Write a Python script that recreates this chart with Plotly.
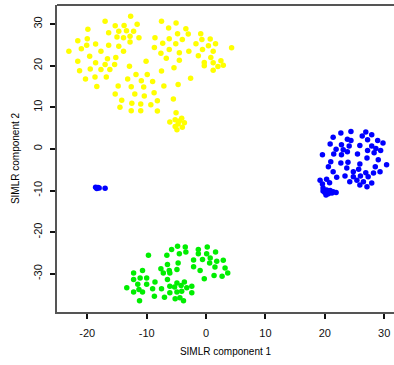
import plotly.graph_objects as go

# SIMLR embedding, cluster 1 (yellow)
yellow_x = [-12.7, -17.0, -15.3, -13.8, -11.6, -19.9, -16.4, -14.7, -13.4, -12.2,
            -15.0, -13.9, -12.8, -11.3, -8.6, -21.6, -20.0, -12.8, -18.6, -20.1,
            -16.4, -14.7, -21.0, -23.1, -17.7, -13.9, -19.6, -16.6, -15.2, -21.6,
            -18.6, -17.0, -15.4, -12.9, -10.1, -19.5, -17.7, -16.2, -21.3, -11.8,
            -9.9, -16.8, -18.7, -20.3, -13.2, -10.9, -9.0, -18.4, -14.8, -12.6,
            -10.5, -15.3, -14.2, -14.5, -12.5, -12.6, -11.0, -11.0, -9.3, -8.2,
            -8.2, -10.4, -12.0, -8.75, -7.1, -7.5, -5.5, -4.7, -5.4, -4.5,
            -2.6, -0.3, -7.5, -5.05, -6.3, -3.4, -6.2, -4.8, -3.0, -0.9,
            -4.0, -7.3, -5.1, -8.7, -1.7, -0.7, 0.7, 1.6, 0.4, 4.3,
            -6.2, -2.9, -0.6, 1.2, -7.6, -4.5, -1.3, 0.8, -6.7, -0.3,
            1.2, 2.5, 2.0, 2.9, 1.2,
            -5.05, -6.1, -5.2, -4.1, -4.7, -3.65, -5.2, -4.0, -4.9, -4.5]
yellow_y = [31.9, 30.7, 29.6, 29.7, 30.0, 28.8, 27.9, 28.3, 28.4, 28.3,
            26.9, 26.7, 27.1, 26.7, 26.7, 26.0, 26.5, 25.7, 25.2, 24.9,
            24.9, 24.7, 24.1, 23.5, 23.5, 23.5, 22.3, 21.7, 22.0, 21.1,
            20.7, 20.3, 20.3, 19.9, 21.1, 19.2, 19.1, 19.1, 18.8, 17.9,
            17.9, 17.3, 17.3, 16.8, 16.8, 16.4, 16.2, 15.0, 15.1, 14.95,
            14.9, 13.2, 11.7, 10.0, 11.0, 9.2, 10.8, 9.2, 10.6, 11.6,
            9.1, 12.7, 13.2, 13.5, 15.1, 18.75, 12.0, 15.5, 19.5, 21.3,
            17.0, 20.0, 30.7, 30.3, 29.1, 28.9, 26.5, 27.7, 27.6, 27.7,
            26.3, 25.4, 25.3, 24.4, 25.3, 26.3, 26.4, 25.3, 24.8, 24.3,
            23.9, 23.5, 23.9, 23.5, 23.0, 23.1, 22.4, 22.0, 21.8, 20.8,
            20.7, 21.2, 19.8, 20.1, 18.9,
            8.7, 6.5, 7.0, 7.4, 6.0, 6.3, 5.4, 5.2, 4.6, 6.7]

# cluster 2 (blue): main group plus a small tight group on the left
blue_x = [24.4, 22.7, 26.3, 26.9, 27.9, 21.4, 23.8, 24.4, 27.2, 28.9,
          29.8, 20.9, 22.8, 24.1, 25.9, 27.9, 28.6, 21.9, 23.1, 23.8,
          27.2, 29.4, 28.3, 19.6, 21.5, 22.8, 25.5, 27.1, 29.0, 30.4,
          21.0, 22.7, 23.9, 25.9, 28.5, 20.6, 21.4, 23.7, 24.8, 25.7,
          26.9, 28.2, 29.3, 20.3, 22.0, 23.4, 24.8, 26.0, 27.3, 26.5,
          27.9, 19.6, 20.8, 24.2, 25.4, 25.9, 27.1, 19.2,
          19.7, 20.3, 20.9, 20.0, 20.6, 21.4, 21.9, 21.2, 20.2, 20.5, 19.7,
          -18.6, -18.2, -18.0, -17.0, -18.4]
blue_y = [4.2, 3.8, 3.1, 4.1, 3.4, 2.8, 2.3, 2.0, 2.2, 2.0,
          1.4, 1.2, 1.0, 0.7, 0.8, 0.7, 0.1, -0.1, -0.2, -0.7,
          -0.4, -0.4, -0.9, -1.4, -1.2, -1.4, -1.2, -2.2, -2.6, -3.8,
          -3.1, -3.4, -3.2, -3.6, -4.3, -4.3, -5.5, -4.6, -5.5, -4.9,
          -5.7, -5.8, -5.5, -7.3, -6.8, -6.5, -6.7, -6.5, -6.7, -7.9,
          -8.2, -8.4, -8.1, -7.9, -7.5, -8.7, -9.1, -7.5,
          -9.4, -9.9, -10.0, -10.5, -10.8, -10.3, -10.5, -10.6, -11.1, -10.1, -10.1,
          -9.2, -9.3, -9.4, -9.45, -9.5]

# cluster 3 (green)
green_x = [-9.7, -4.8, -3.5, -5.8, -3.4, -6.6, -4.5, -1.3, 0.2, 1.6,
           -1.3, 0.1, -2.1, -0.6, 0.7, 1.8, 2.9, -6.5, -4.7, 0.6,
           1.5, 3.2, -7.6, -6.2, -4.9, -2.1, -1.0, 3.65, -12.2, -10.7,
           -7.2, -6.1, -12.2, -11.1, -10.0, -6.5, -0.3, 1.35, 2.7, -11.5,
           -10.0, -8.6, -4.9, -3.65, -2.4, -13.35, -11.3, -9.0, -7.5, -6.1,
           -5.3, -4.2, -3.25, -12.2, -10.7, -8.7, -7.0, -6.1, -4.9, -4.1,
           -2.4, -5.2, -4.4, -3.8, -11.2]
green_y = [-25.55, -23.4, -23.6, -24.2, -24.8, -25.55, -25.2, -24.2, -23.6, -24.8,
           -25.2, -25.2, -26.7, -26.6, -26.2, -27.0, -26.75, -27.8, -27.4, -27.4,
           -28.4, -28.6, -28.8, -29.25, -29.0, -28.3, -29.25, -29.8, -29.8, -29.2,
           -29.8, -29.8, -31.4, -31.0, -31.0, -31.4, -31.2, -30.4, -30.6, -32.5,
           -32.5, -32.0, -32.2, -32.0, -33.0, -33.4, -33.8, -33.6, -33.6, -33.0,
           -33.2, -32.8, -33.4, -34.4, -34.4, -35.4, -35.65, -34.6, -34.4, -34.2,
           -34.6, -36.0, -35.8, -36.5, -36.5]

x_ticks = [-20, -10, 0, 10, 20, 30]
y_ticks = [-30, -20, -10, 0, 10, 20, 30]
x_tick_text = ["-20", "-10", "0", "10", "20", "30"]
y_tick_text = ["-30", "-20", "-10", "0", "10", "20", "30"]

fig = go.Figure()
for xs, ys, col in [(yellow_x, yellow_y, "#FFFF00"),
                    (blue_x, blue_y, "#0000FF"),
                    (green_x, green_y, "#00EE00")]:
    fig.add_trace(go.Scatter(x=xs, y=ys, mode="markers",
                             marker=dict(color=col, size=5.5, line=dict(width=0)),
                             showlegend=False, hoverinfo="skip"))

font = dict(family="Liberation Sans, Arial, sans-serif", size=11, color="#111")

fig.update_layout(
    width=394, height=365,
    margin=dict(l=57, r=0, t=5, b=53),
    paper_bgcolor="white", plot_bgcolor="white",
    font=font,
    xaxis=dict(range=[-25.1, 31.65], tickvals=x_ticks, ticktext=x_tick_text,
               ticks="outside", ticklen=5, tickwidth=1.5, tickcolor="#111",
               showline=True, linecolor="#555", linewidth=2,
               showgrid=False, zeroline=False, ticklabelstandoff=5,
               title=dict(text="SIMLR component 1", standoff=10,
                          font=dict(size=10, color="#000"))),
    yaxis=dict(range=[-39.2, 34.6], tickvals=y_ticks, ticktext=y_tick_text,
               ticks="outside", ticklen=5, tickwidth=1.5, tickcolor="#111",
               tickangle=-90,
               showline=True, linecolor="#555", linewidth=2,
               showgrid=False, zeroline=False, ticklabelstandoff=4,
               title=dict(text="SIMLR component 2", standoff=10,
                          font=dict(size=10, color="#000"))),
    shapes=[dict(type="line", xref="paper", yref="paper", x0=0, x1=1,
                 y0=1, y1=1, line=dict(color="#555", width=2))],
)

fig.write_html("out.html")
